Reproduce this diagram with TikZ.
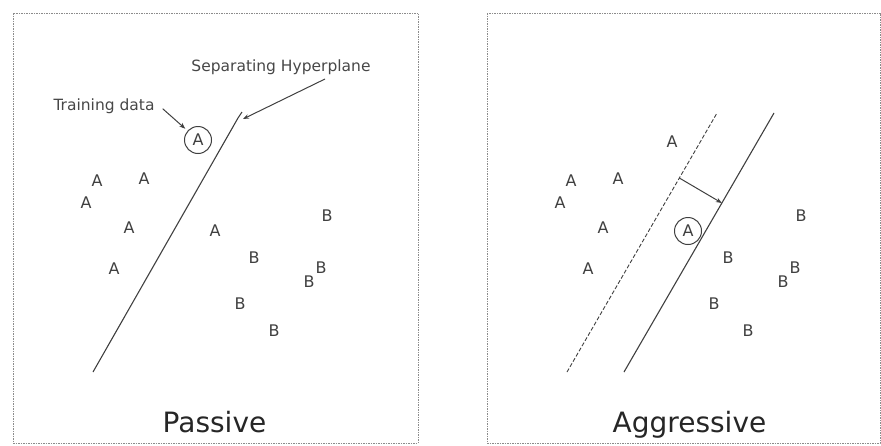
\documentclass[tikz,border=0pt]{standalone}
\usepackage{fontspec}
\setmainfont{DejaVu Sans}
\usetikzlibrary{arrows.meta}

\tikzset{
  letter/.style={text=black!75, font=\fontsize{16}{16}\selectfont, inner sep=0pt},
  caption/.style={text=black!72, font=\fontsize{15.5}{16}\selectfont, inner sep=0pt, anchor=base},
  heading/.style={text=black!85, font=\fontsize{28}{30}\selectfont, inner sep=0pt, anchor=base},
  panel/.style={draw=black!45, dash pattern=on 1.5pt off 1pt, line width=0.9pt},
  plane/.style={draw=black!75, line width=1.1pt},
  pointer/.style={draw=black!75, line width=1pt, -{Stealth[length=6pt,width=4.5pt]}},
  ringed/.style={letter, circle, draw=black!75, line width=1pt, minimum size=27pt}
}

\begin{document}
\begin{tikzpicture}[x=1pt, y=-1pt]
  % one unit = one pixel of the 881 x 445 picture, y pointing down
  \useasboundingbox (0,0) rectangle (881,445);

  % the two dotted panels
  \draw[panel] (13,13) rectangle (418,443);
  \draw[panel] (487,13) rectangle (880,443);

  % points shared by both panels
  \foreach \dx/\p in {0/l, 474/r} {
    \begin{scope}[xshift=\dx]
      \node[letter] (\p a1) at (97,181) {A};
      \node[letter] (\p a2) at (144,179) {A};
      \node[letter] (\p a3) at (86,203) {A};
      \node[letter] (\p a4) at (129,228) {A};
      \node[letter] (\p a5) at (114,269) {A};
      \node[letter] (\p b1) at (327,216) {B};
      \node[letter] (\p b2) at (254,258) {B};
      \node[letter] (\p b3) at (321,268) {B};
      \node[letter] (\p b4) at (309,282) {B};
      \node[letter] (\p b5) at (240,304) {B};
      \node[letter] (\p b6) at (274,331) {B};
    \end{scope}
  }

  % Passive
  \node[ringed] (lnew) at (198,140) {A};
  \node[letter] (la6) at (215,231) {A};

  \coordinate (hbot) at (93,372);
  \coordinate (hknee) at (238,118);
  \coordinate (htop) at (242,112);
  \draw[plane] (hbot) -- (hknee) -- (htop);

  \node[caption] (train) at (104,110) {Training data};
  \node[caption] (hyper) at (281,71) {Separating Hyperplane};
  \draw[pointer, shorten >=3pt] ([shift={(8,3)}]train.east) -- (lnew);
  \draw[pointer] ([shift={(44,8)}]hyper.base) -- ([shift={(5,1)}]hknee);

  \node[heading] (passive) at (214.5,432) {Passive};

  % Aggressive
  \node[letter] (ra6) at (672,142) {A};
  \node[ringed] (rnew) at (688,231) {A};

  \coordinate (dbot) at (567,372);
  \coordinate (dtop) at (717,113);
  \coordinate (sbot) at (624,372);
  \coordinate (stop) at (774,113);
  \draw[plane, line width=0.9pt, dash pattern=on 4pt off 2pt] (dbot) -- coordinate[pos=0.749] (dmid) (dtop);
  \draw[plane] (sbot) -- coordinate[pos=0.6525] (smid) (stop);
  \draw[pointer] (dmid) -- (smid);

  \node[heading] (aggressive) at (689.5,432) {Aggressive};
\end{tikzpicture}
\end{document}
